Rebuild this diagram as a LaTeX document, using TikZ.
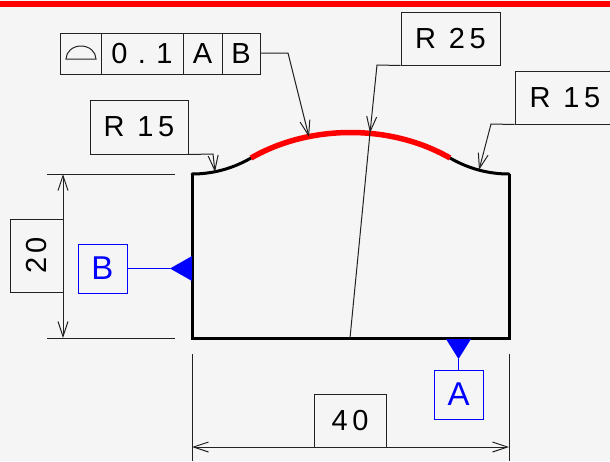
\documentclass[tikz,border=0pt]{standalone}
\usepackage{fontspec}
\usepackage{tikz}
\usetikzlibrary{arrows.meta}
\setmainfont{Liberation Sans}
\newfontfamily\dimfont[LetterSpace=16]{Liberation Sans}
\definecolor{paper}{HTML}{F5F5F5}
\definecolor{inkline}{HTML}{222222}
\definecolor{datumblue}{HTML}{0000FF}

\begin{document}
\begin{tikzpicture}[x=1pt,y=-1pt,>={Straight Barb[length=15pt,width=10pt]}]
    \tikzstyle{every node}=[inner sep=0pt,font=\fontsize{29}{32}\selectfont]
    \tikzstyle{dimbox}=[draw=inkline,line width=1pt,font=\fontsize{29}{32}\selectfont\dimfont]
    \tikzstyle{fcfcell}=[dimbox,minimum height=41pt]
    \tikzstyle{datumbox}=[draw=datumblue,line width=1pt,text=datumblue,font=\fontsize{33}{36}\selectfont,minimum width=49pt,minimum height=49pt]
    \tikzstyle{thin line}=[draw=inkline,line width=1pt]
    \tikzstyle{profile}=[draw=black,line width=3pt,line cap=round]
    \useasboundingbox (0,0) rectangle (610,461);
    \fill[paper] (0,0) rectangle (610,461);
    \fill[red] (0,0.5) rectangle (610,7);

    % outline of the part
    \coordinate (botleft) at (192,338);
    \coordinate (kneeleft) at (192,174);
    \coordinate (redstart) at (251,158);
    \coordinate (redend) at (450,158);
    \coordinate (kneeright) at (509,174);
    \coordinate (botright) at (509,338);
    \draw[profile,line join=miter,line cap=butt] (kneeleft) -- (botleft) -- (botright) -- (kneeright);
    \draw[profile] (kneeleft) .. controls (212,174) and (232,169) .. (redstart);
    \draw[profile] (redend) .. controls (469,169) and (489,174) .. (kneeright);
    \draw[draw=red,line width=5.5pt] (redstart) .. controls (310,124) and (391,124) .. (redend);

    % feature control frame
    \node[fcfcell,minimum width=41pt] (fcfsym) at (80.5,53.5) {};
    \node[fcfcell,minimum width=82pt] (fcfval) at (142,53.5) {\addfontfeature{LetterSpace=36}0.1};
    \node[fcfcell,minimum width=39pt] (fcfa) at (202.5,53.5) {\addfontfeature{LetterSpace=0}A};
    \node[fcfcell,minimum width=38pt] (fcfb) at (241,53.5) {\addfontfeature{LetterSpace=0}B};
    \draw[thin line] (66,59) arc[start angle=180,end angle=0,x radius=15,y radius=-13] -- cycle;
    \coordinate (fcfbend) at (288,53);
    \coordinate (fcftip) at (309,137);
    \draw[thin line,->] (fcfb.east |- fcfbend) -- (fcfbend) -- (fcftip);

    % radius labels
    \node[dimbox,minimum width=98pt,minimum height=54pt] (rleft) at (139,127) {R 15};
    \coordinate (rleftbend) at (213,154);
    \coordinate (rlefttip) at (215,172);
    \draw[thin line,->] (rleft.south east) -- (rleftbend) -- (rlefttip);

    \node[dimbox,minimum width=99pt,minimum height=53pt] (rmid) at (450.5,38.5) {R 25};
    \coordinate (rmidbend) at (377,65);
    \coordinate (rmidtip) at (370,133);
    \coordinate (rmidfoot) at (350,338);
    \draw[thin line,->] (rmid.south west) -- (rmidbend) -- (rmidtip);
    \draw[thin line] (rmidtip) -- (rmidfoot);

    \node[dimbox,minimum width=100pt,minimum height=53pt] (rright) at (565,97.5) {R 15};
    \coordinate (rrightbend) at (491,124);
    \coordinate (rrighttip) at (479,170);
    \draw[thin line,->] (rright.south west) -- (rrightbend) -- (rrighttip);

    % height dimension
    \coordinate (exttopa) at (47,174);
    \coordinate (exttopb) at (175,174);
    \coordinate (extbota) at (47,338);
    \coordinate (extbotb) at (175,338);
    \coordinate (heighttop) at (63,174);
    \coordinate (heightbot) at (63,338);
    \draw[thin line] (exttopa) -- (exttopb);
    \draw[thin line] (extbota) -- (extbotb);
    \draw[thin line,<->] (heighttop) -- (heightbot);
    \node[dimbox,rotate=90,minimum width=73pt,minimum height=53pt] (height) at (36.5,255.5) {20};

    % width dimension
    \coordinate (extlefta) at (192,354);
    \coordinate (extleftb) at (192,461);
    \coordinate (extrighta) at (509,354);
    \coordinate (extrightb) at (509,461);
    \coordinate (widthleft) at (192,447);
    \coordinate (widthright) at (509,447);
    \draw[thin line] (extlefta) -- (extleftb);
    \draw[thin line] (extrighta) -- (extrightb);
    \draw[thin line,<->] (widthleft) -- (widthright);
    \node[dimbox,minimum width=72pt,minimum height=53pt] (width) at (350,420.5) {40};

    % datum B
    \node[datumbox] (datumb) at (102.5,268.5) {B};
    \coordinate (triblefttip) at (170,268.5);
    \draw[datumblue,line width=1pt] (datumb) -- (triblefttip);
    \fill[datumblue] (triblefttip) -- (192,256) -- (192,281) -- cycle;

    % datum A
    \node[datumbox] (datuma) at (458.5,394.5) {A};
    \coordinate (triatip) at (458.5,359);
    \draw[datumblue,line width=1pt] (datuma) -- (triatip);
    \fill[datumblue] (triatip) -- (446,339) -- (471,339) -- cycle;
\end{tikzpicture}
\end{document}
